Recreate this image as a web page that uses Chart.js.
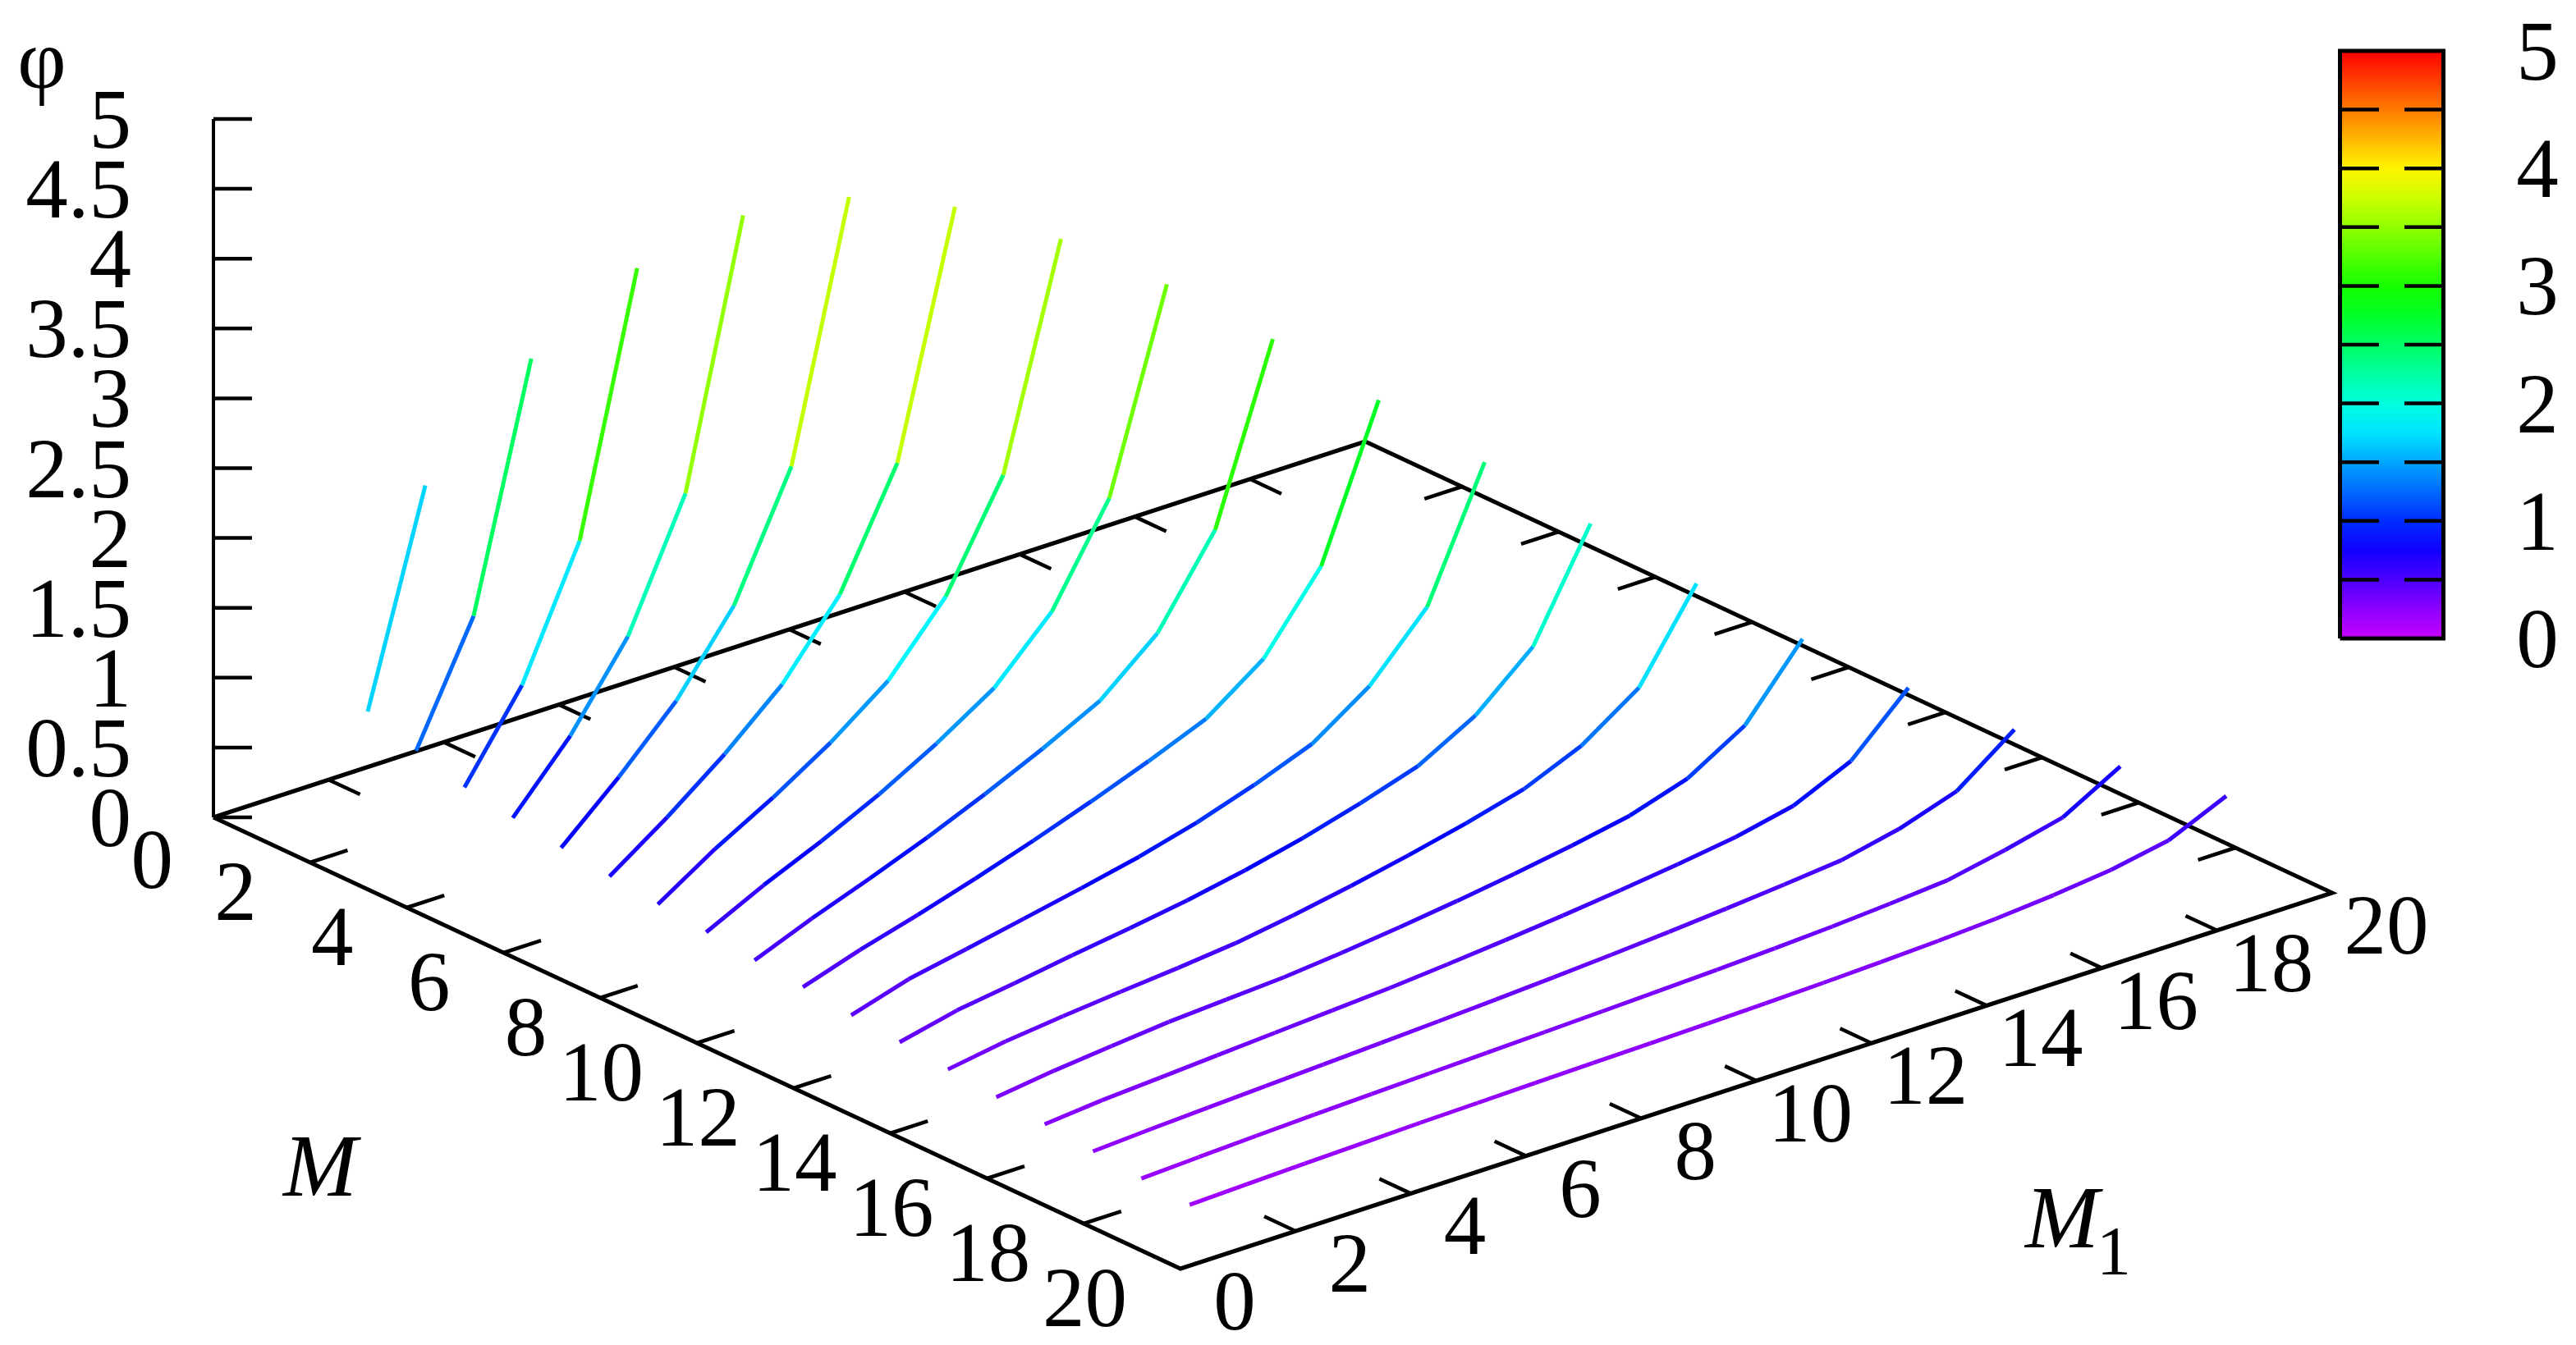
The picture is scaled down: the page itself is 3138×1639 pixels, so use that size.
<!DOCTYPE html>
<html>
<head>
<meta charset="utf-8">
<title>phi surface</title>
<script src="https://cdn.jsdelivr.net/npm/chart.js@4/dist/chart.umd.min.js"></script>
<style>
  html, body { margin: 0; padding: 0; background: #fff; }
  #wrap { width: 3138px; height: 1639px; }
</style>
</head>
<body>
<div id="wrap"><canvas id="myChart" width="3138" height="1639"></canvas></div>
<script>
// one list per M, values of phi for M1 = 1 .. M
const phiM2 = [0.946, 2.43]
const phiM3 = [0.826, 1.658, 3.365]
const phiM4 = [0.726, 1.323, 2.222, 4.04]
const phiM5 = [0.67, 1.123, 1.70, 2.59, 4.445]
const phiM6 = [0.617, 0.988, 1.40, 1.947, 2.81, 4.604]
const phiM7 = [0.573, 0.862, 1.18, 1.545, 2.053, 2.862, 4.56]
const phiM8 = [0.535, 0.80, 1.03, 1.29, 1.598, 2.066, 2.803, 4.358]
const phiM9 = [0.497, 0.70, 0.88, 1.08, 1.31, 1.573, 1.984, 2.663, 4.06]
const phiM10 = [0.458, 0.624, 0.774, 0.934, 1.109, 1.299, 1.509, 1.859, 2.464, 3.695]
const phiM11 = [0.427, 0.562, 0.677, 0.802, 0.937, 1.082, 1.237, 1.406, 1.702, 2.23, 3.285]
const phiM12 = [0.388, 0.512, 0.592, 0.676, 0.76, 0.85, 0.96, 1.095, 1.253, 1.533, 1.964, 2.868]
const phiM13 = [0.356, 0.45, 0.51, 0.575, 0.635, 0.70, 0.78, 0.875, 0.99, 1.121, 1.35, 1.708, 2.455]
const phiM14 = [0.323, 0.389, 0.435, 0.475, 0.512, 0.555, 0.62, 0.695, 0.78, 0.875, 0.984, 1.16, 1.441, 2.053]
const phiM15 = [0.286, 0.34, 0.382, 0.422, 0.447, 0.472, 0.512, 0.56, 0.614, 0.674, 0.742, 0.821, 0.951, 1.198, 1.683]
const phiM16 = [0.253, 0.291, 0.317, 0.344, 0.37, 0.396, 0.423, 0.457, 0.495, 0.537, 0.584, 0.636, 0.695, 0.784, 0.969, 1.36]
const phiM17 = [0.221, 0.245, 0.265, 0.285, 0.305, 0.325, 0.345, 0.367, 0.391, 0.417, 0.446, 0.479, 0.516, 0.557, 0.646, 0.782, 1.088]
const phiM18 = [0.188, 0.207, 0.225, 0.241, 0.255, 0.268, 0.281, 0.294, 0.308, 0.322, 0.338, 0.356, 0.378, 0.406, 0.44, 0.522, 0.62, 0.852]
const phiM19 = [0.162, 0.175, 0.187, 0.198, 0.21, 0.218, 0.226, 0.234, 0.241, 0.249, 0.258, 0.270, 0.284, 0.302, 0.326, 0.36, 0.407, 0.484, 0.666]
const curveList = [phiM2, phiM3, phiM4, phiM5, phiM6, phiM7, phiM8, phiM9, phiM10, phiM11, phiM12, phiM13, phiM14, phiM15, phiM16, phiM17, phiM18, phiM19]
const curveM = [2, 3, 4, 5, 6, 7, 8, 9, 10, 11, 12, 13, 14, 15, 16, 17, 18, 19]

const baseTicks = [0, 2, 4, 6, 8, 10, 12, 14, 16, 18, 20]
const phiTicks = [0, 0.5, 1, 1.5, 2, 2.5, 3, 3.5, 4, 4.5, 5]
const colorTicks = [0.5, 1, 1.5, 2, 2.5, 3, 3.5, 4, 4.5]
const colorLabels = [0, 1, 2, 3, 4, 5]

// view of the 3d box on the page
function project(m, m1, phi) {
    return {
        x: 260 + 58.9 * m + 70.15 * m1,
        y: 996 + 27.5 * m - 22.9 * m1 - 170.2 * phi
    }
}
function barPoint(v, xPos) {
    return { x: xPos, y: 778 - 143.2 * v }
}

// same rainbow as the colour box
function hueFor(v) {
    return 287 * (1 - v / 5)
}
function colorFor(v) {
    return 'hsl(' + hueFor(v) + ',100%,50%)'
}

function blackLine(points, width) {
    return {
        data: points,
        borderColor: '#000',
        borderWidth: width,
        pointRadius: 0,
        showLine: true,
        order: 5
    }
}

let datasets = []

// curves, one colour per segment
curveList.forEach((vals, i) => {
    const m = curveM[i]
    datasets.push({
        data: vals.map((v, k) => project(m, k + 1, v)),
        showLine: true,
        pointRadius: 0,
        borderWidth: 5,
        borderColor: colorFor(vals[0]),
        borderCapStyle: 'butt',
        borderJoinStyle: 'round',
        order: 1,
        segment: {
            borderColor: c => colorFor((vals[c.p0DataIndex] + vals[c.p1DataIndex]) / 2)
        }
    })
})

// floor of the box
datasets.push(blackLine([project(0, 0, 0), project(20, 0, 0), project(20, 20, 0), project(0, 20, 0), project(0, 0, 0)], 5))
// ticks on the four floor edges
baseTicks.slice(1, -1).forEach(t => {
    datasets.push(blackLine([project(t, 0, 0), project(t, 0.65, 0)], 4.5))
    datasets.push(blackLine([project(t, 20, 0), project(t, 19.35, 0)], 4.5))
    datasets.push(blackLine([project(0, t, 0), project(0.65, t, 0)], 4.5))
    datasets.push(blackLine([project(20, t, 0), project(19.35, t, 0)], 4.5))
})
// phi axis
datasets.push(blackLine([project(0, 0, 0), project(0, 0, 5)], 4))
phiTicks.forEach(t => {
    datasets.push(blackLine([project(0, 0, t), project(0.328, 0.394, t)], 4.5))
})

// colour box
datasets.push({
    data: [barPoint(0, 2913.5), barPoint(5, 2913.5)],
    showLine: true,
    pointRadius: 0,
    borderWidth: 122,
    borderCapStyle: 'butt',
    order: 6,
    borderColor: context => {
        const g = context.chart.ctx.createLinearGradient(0, 778, 0, 62)
        for (let s = 0; s <= 20; s++) {
            g.addColorStop(s / 20, colorFor(s / 4))
        }
        return g
    }
})
datasets.push(blackLine([barPoint(0, 2850.5), barPoint(0, 2976.5), barPoint(5, 2976.5), barPoint(5, 2850.5), barPoint(0, 2850.5)], 5))
colorTicks.forEach(t => {
    datasets.push(blackLine([barPoint(t, 2853), barPoint(t, 2898)], 4.5))
    datasets.push(blackLine([barPoint(t, 2929), barPoint(t, 2974)], 4.5))
})

// all the text goes through the same scales as the lines
const textPlugin = {
    id: 'boxText',
    afterDatasetsDraw(chart) {
        const c = chart.ctx
        const sx = chart.scales.x
        const sy = chart.scales.y
        const put = (str, x, y, align, font) => {
            c.font = font
            c.textAlign = align
            c.textBaseline = 'alphabetic'
            c.fillStyle = '#000'
            c.fillText(str, sx.getPixelForValue(x), sy.getPixelForValue(y))
        }
        const f = '103px "Liberation Serif"'
        c.save()
        phiTicks.forEach(t => {
            const p = project(0, 0, t)
            put(String(t), p.x - 100, p.y + 35, 'right', f)
        })
        baseTicks.forEach(t => {
            const p = project(t, 0, 0)
            if (t === 0) {
                put('0', p.x - 49, p.y + 86, 'right', f)
            } else {
                put(String(t), p.x - 65, p.y + 70, 'right', f)
            }
            const q = project(20, t, 0)
            put(String(t), q.x + 66, q.y + 74, 'center', f)
        })
        colorLabels.forEach(t => {
            const p = barPoint(t, 3091)
            put(String(t), p.x, p.y + 35, 'center', f)
        })
        put('φ', 51, 107, 'center', f)
        put('M', 390, 1457, 'center', 'italic 108px "Liberation Serif"')
        put('M', 2512, 1520, 'center', 'italic 108px "Liberation Serif"')
        put('1', 2575, 1553, 'center', '84px "Liberation Serif"')
        c.restore()
    }
}

const ctx = document.getElementById('myChart')

new Chart(ctx, {
    type: 'scatter',
    data: { datasets: datasets },
    plugins: [textPlugin],
    options: {
        responsive: false,
        animation: false,
        layout: { padding: 0 },
        plugins: { legend: { display: false }, tooltip: { enabled: false } },
        scales: {
            x: { type: 'linear', min: 0, max: 3138, display: false },
            y: { type: 'linear', min: 0, max: 1639, reverse: true, display: false }
        }
    }
})
</script>
</body>
</html>
